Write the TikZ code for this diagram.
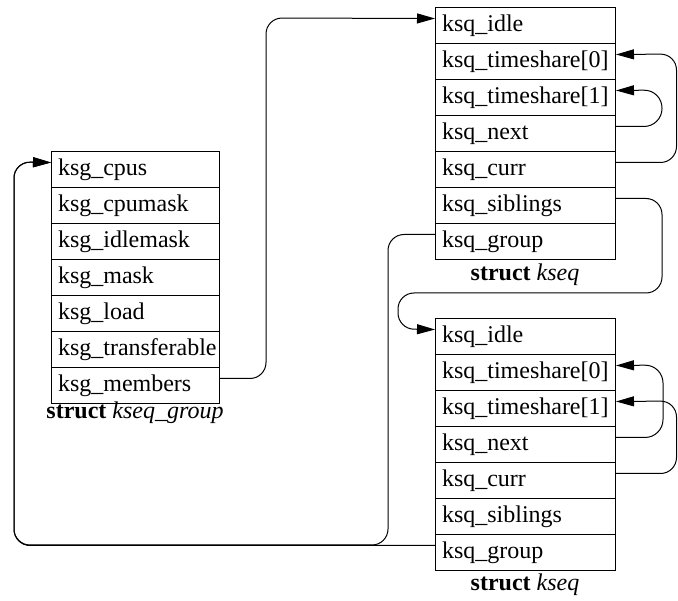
\documentclass[tikz,border=0pt]{standalone}
\usepackage{fontspec}
\setmainfont{Liberation Serif}
\usetikzlibrary{arrows.meta}
\begin{document}
\begin{tikzpicture}[x=1pt,y=-1pt,
  field/.style={draw=black,line width=1pt,minimum height=36pt,inner xsep=6.5pt,inner ysep=0pt,anchor=north west,font=\fontsize{24}{28}\selectfont},
  lbl/.style={font=\fontsize{24}{28}\selectfont,inner sep=0pt},
  link/.style={draw=black,line width=1pt,rounded corners=16pt},
  tip/.style={-{Triangle[length=18pt,width=10pt]}}]
\useasboundingbox (0,0) rectangle (678,601);
% top kseq
\node[field] (a1) at (435,7)   {\makebox[167pt][l]{ksq\_idle}};
\node[field] (a2) at (435,43)  {\makebox[167pt][l]{ksq\_timeshare[0]}};
\node[field] (a3) at (435,79)  {\makebox[167pt][l]{ksq\_timeshare[1]}};
\node[field] (a4) at (435,115) {\makebox[167pt][l]{ksq\_next}};
\node[field] (a5) at (435,151) {\makebox[167pt][l]{ksq\_curr}};
\node[field] (a6) at (435,187) {\makebox[167pt][l]{ksq\_siblings}};
\node[field] (a7) at (435,223) {\makebox[167pt][l]{ksq\_group}};
\node[lbl] (la) at (525,275) {\textbf{struct} \textit{kseq}};
% bottom kseq
\node[field] (b1) at (435,318) {\makebox[167pt][l]{ksq\_idle}};
\node[field] (b2) at (435,354) {\makebox[167pt][l]{ksq\_timeshare[0]}};
\node[field] (b3) at (435,390) {\makebox[167pt][l]{ksq\_timeshare[1]}};
\node[field] (b4) at (435,426) {\makebox[167pt][l]{ksq\_next}};
\node[field] (b5) at (435,462) {\makebox[167pt][l]{ksq\_curr}};
\node[field] (b6) at (435,498) {\makebox[167pt][l]{ksq\_siblings}};
\node[field] (b7) at (435,534) {\makebox[167pt][l]{ksq\_group}};
\node[lbl] (lb) at (525,585) {\textbf{struct} \textit{kseq}};
% kseq_group
\node[field] (g1) at (51,151) {\makebox[155pt][l]{ksg\_cpus}};
\node[field] (g2) at (51,187) {\makebox[155pt][l]{ksg\_cpumask}};
\node[field] (g3) at (51,223) {\makebox[155pt][l]{ksg\_idlemask}};
\node[field] (g4) at (51,259) {\makebox[155pt][l]{ksg\_mask}};
\node[field] (g5) at (51,295) {\makebox[155pt][l]{ksg\_load}};
\node[field] (g6) at (51,331) {\makebox[155pt][l]{ksg\_transferable}};
\node[field] (g7) at (51,367) {\makebox[155pt][l]{ksg\_members}};
\node[lbl] (lg) at (135,413) {\textbf{struct} \textit{kseq\_group}};
% connectors
\draw[link,tip] ([yshift=7pt]g7.east) -| (266,18) -- ([yshift=7pt]a1.west);
\draw[link,tip] ([yshift=7pt]a5.east) -| (676.5,54) -- ([yshift=7pt]a2.east);
\draw[link,rounded corners=18pt,tip] ([yshift=7pt]a4.east) -| (662,90) -- ([yshift=7pt]a3.east);
\draw[link,tip] ([yshift=7pt]a6.east) -| (662,293) -| (398,329) -- ([yshift=7pt]b1.west);
\draw[link,tip] ([yshift=7pt]a7.west) -| (388,545) -| (14,162) -- ([yshift=7pt]g1.west);
\draw[link,tip] ([yshift=7pt]b7.west) -| (14,162) -- ([yshift=7pt]g1.west);
\draw[link,rounded corners=18pt,tip] ([yshift=7pt]b4.east) -| (663,365) -- ([yshift=7pt]b2.east);
\draw[link,tip] ([yshift=7pt]b5.east) -| (676.5,401) -- ([yshift=7pt]b3.east);
\end{tikzpicture}
\end{document}
